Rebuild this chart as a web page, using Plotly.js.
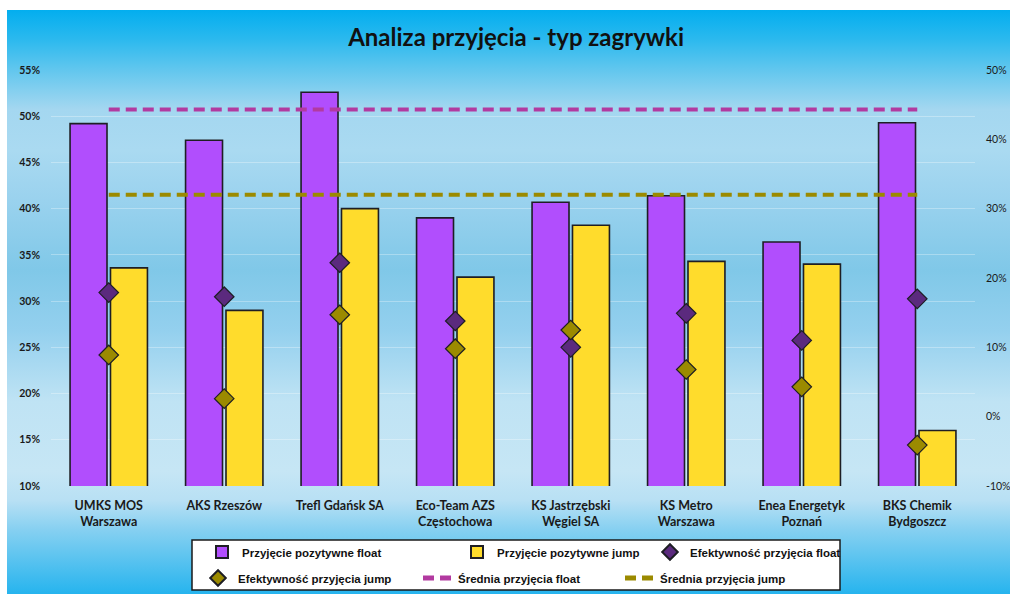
<!DOCTYPE html>
<html>
<head>
<meta charset="utf-8">
<script src="https://cdn.plot.ly/plotly-3.0.1.min.js"></script>
<style>
  html, body { margin: 0; padding: 0; background: #ffffff; width: 1010px; height: 594px; overflow: hidden; }
  #bg { position: absolute; left: 7px; top: 10px; width: 1003px; height: 584px;
        background: linear-gradient(to bottom,
          #03aeef 0%, #2bb9ee 5%, #5fc6ee 10%, #a4d7f0 17%, #aadaf1 24%, #9ad2ee 32.5%,
          #80c8e8 44.5%, #94d0ee 55%, #bfe3f4 67%, #c6e6f5 79%, #b8e0f4 84%, #86d0f1 89%, #26b4ee 100%); }
  #chart { position: absolute; left: 0; top: 0; width: 1010px; height: 594px; }
</style>
</head>
<body>
<div id="bg"></div>
<div id="chart"></div>
<script>
// ---- data ----
const categories = [
  'UMKS MOS<br>Warszawa', 'AKS Rzeszów', 'Trefl Gdańsk SA', 'Eco-Team AZS<br>Częstochowa',
  'KS Jastrzębski<br>Węgiel SA', 'KS Metro<br>Warszawa', 'Enea Energetyk<br>Poznań', 'BKS Chemik<br>Bydgoszcz'
];
const positiveFloat = [49.2, 47.4, 52.6, 39.0, 40.7, 41.4, 36.4, 49.3];
const positiveJump  = [33.6, 29.0, 40.0, 32.6, 38.2, 34.3, 34.0, 16.0];
const effFloat      = [17.9, 17.3, 22.2, 13.8, 10.0, 14.9, 11.0, 17.0];
const effJump       = [8.9, 2.6, 14.7, 9.8, 12.5, 6.8, 4.3, -4.1];
const avgFloat      = [44.3, 44.3, 44.3, 44.3, 44.3, 44.3, 44.3, 44.3];
const avgJump       = [32.0, 32.0, 32.0, 32.0, 32.0, 32.0, 32.0, 32.0];
const leftTicks      = [10, 15, 20, 25, 30, 35, 40, 45, 50, 55];
const leftTickText   = ['10%', '15%', '20%', '25%', '30%', '35%', '40%', '45%', '50%', '55%'];
const rightTicks     = [-10, 0, 10, 20, 30, 40, 50];
const rightTickText  = ['-10%', '0%', '10%', '20%', '30%', '40%', '50%'];

const legendFont = { family: '"Liberation Sans", Arial, sans-serif', size: 11.5, color: '#111111', weight: 700 };
const tickFont = { family: 'Lato, "Open Sans", sans-serif', size: 10.5, color: '#1a1a1a', weight: 700 };

const traces = [
  { type: 'bar', name: 'Przyjęcie pozytywne float', x: categories, y: positiveFloat,
    marker: { color: '#b14efd', line: { color: '#1e1e24', width: 1.6 } },
    legend: 'legend', legendwidth: 210, hoverinfo: 'y' },
  { type: 'bar', name: 'Przyjęcie pozytywne jump', x: categories, y: positiveJump,
    marker: { color: '#ffdc2c', line: { color: '#1e1e24', width: 1.6 } },
    legend: 'legend', legendwidth: 148, hoverinfo: 'y' },
  { type: 'scatter', mode: 'markers', name: 'Efektywność przyjęcia float', x: categories, y: effFloat, yaxis: 'y2',
    marker: { symbol: 'diamond', size: 15, color: '#5b2a7e', line: { color: '#1e1e24', width: 1.2 } },
    legend: 'legend', legendwidth: 170 },
  { type: 'scatter', mode: 'markers', name: 'Efektywność przyjęcia jump', x: categories, y: effJump, yaxis: 'y2',
    marker: { symbol: 'diamond', size: 15, color: '#9b8a00', line: { color: '#1e1e24', width: 1.2 } },
    legend: 'legend2', legendwidth: 175 },
  { type: 'scatter', mode: 'lines', name: 'Średnia przyjęcia float', x: categories, y: avgFloat, yaxis: 'y2',
    line: { color: '#b23aa0', width: 4, dash: '11px,6px' },
    legend: 'legend2', legendwidth: 157 },
  { type: 'scatter', mode: 'lines', name: 'Średnia przyjęcia jump', x: categories, y: avgJump, yaxis: 'y2',
    line: { color: '#9b8a00', width: 4, dash: '11px,6px' },
    legend: 'legend2', legendwidth: 160 }
];

const layout = {
  width: 1010, height: 594,
  margin: { l: 51, r: 35, t: 70, b: 108, autoexpand: false },
  paper_bgcolor: 'rgba(0,0,0,0)', plot_bgcolor: 'rgba(0,0,0,0)',
  title: { text: 'Analiza przyjęcia - typ zagrywki', xref: 'container', x: 0.511, y: 0.936, yanchor: 'middle', xanchor: 'center',
           font: { family: 'Lato, "Open Sans", sans-serif', size: 24, color: '#111111', weight: 700 } },
  barmode: 'group', bargap: 0.30, bargroupgap: 0.086,
  showlegend: true,
  xaxis: { type: 'category', showgrid: false, zeroline: false, showline: false, ticks: '',
           tickfont: { family: 'Lato, "Open Sans", sans-serif', size: 12.5, color: '#1a1a1a', weight: 700 },
           ticklabelstandoff: 10, fixedrange: true },
  yaxis: { range: [10, 55], tickmode: 'array', tickvals: leftTicks, ticktext: leftTickText, tickfont: tickFont,
           showgrid: true, gridcolor: 'rgba(255,255,255,0.3)', gridwidth: 1, zeroline: false, showline: false,
           ticks: '', ticklabelstandoff: 10, fixedrange: true },
  yaxis2: { overlaying: 'y', side: 'right', range: [-10, 50], tickmode: 'array', tickvals: rightTicks, ticktext: rightTickText,
            tickfont: { family: 'Lato, "Open Sans", sans-serif', size: 10.5, color: '#1a1a1a', weight: 400 },
            showgrid: false, zeroline: false, showline: false, ticks: '', ticklabelstandoff: 10, fixedrange: true },
  legend: { orientation: 'h', x: 0.1634, xanchor: 'left', y: -0.1587, yanchor: 'middle', itemsizing: 'constant',
            bgcolor: 'rgba(0,0,0,0)', borderwidth: 0, font: legendFont, traceorder: 'normal' },
  legend2: { orientation: 'h', x: 0.1591, xanchor: 'left', y: -0.2212, yanchor: 'middle', itemsizing: 'constant',
             bgcolor: 'rgba(0,0,0,0)', borderwidth: 0, font: legendFont, traceorder: 'normal' },
  shapes: [
    { type: 'rect', xref: 'paper', yref: 'paper', x0: 0.1526, x1: 0.8539, y0: -0.1298, y1: -0.25,
      fillcolor: '#ffffff', line: { color: '#1a1a1a', width: 1.5 }, layer: 'below' }
  ]
};

Plotly.newPlot('chart', traces, layout, { displayModeBar: false, staticPlot: true });
</script>
</body>
</html>
